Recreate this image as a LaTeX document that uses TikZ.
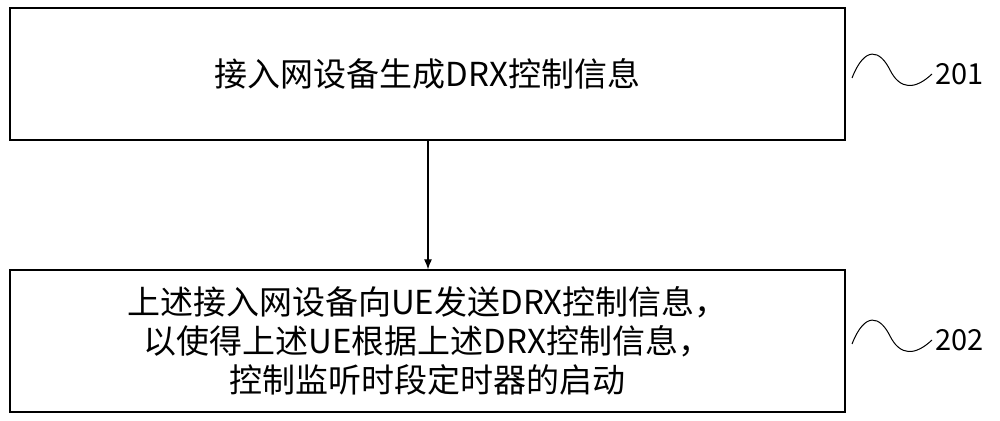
\documentclass[tikz,border=0pt]{standalone}
\usepackage{fontspec}
\usetikzlibrary{arrows.meta}
\setmainfont{Noto Sans CJK SC}[BoldFont={Noto Sans CJK SC Bold}]
\begin{document}
\begin{tikzpicture}[x=1pt,y=1pt,
  stepbox/.style={draw,line width=1.2pt,minimum width=835pt,inner sep=0pt,font=\fontsize{33}{39}\selectfont,align=center},
  lbl/.style={font=\fontsize{29}{32}\selectfont}]
\useasboundingbox (0,0) rectangle (1000,420);
\node[stepbox,minimum height=132pt] (a) at (427.5,346) {接入网设备生成DRX控制信息};
\node[stepbox,minimum height=142pt] (b) at (427.5,79) {上述接入网设备向UE发送DRX控制信息，\\以使得上述UE根据上述DRX控制信息，\\控制监听时段定时器的启动};
\draw[line width=1.2pt,-{Latex[length=10pt,width=8pt]}] (a.south -| 428,0) -- (b.north -| 428,0);
\node[lbl,anchor=west] (l1) at (932,346) {201};
\node[lbl,anchor=west] (l2) at (932,80) {202};
\draw[line width=1pt] (852,342) .. controls (865,375) and (880,370) .. (890,350) .. controls (900,330) and (915,330) .. (l1.west);
\draw[line width=1pt] (852,76) .. controls (865,109) and (880,104) .. (890,84) .. controls (900,64) and (915,64) .. (l2.west);
\end{tikzpicture}
\end{document}
